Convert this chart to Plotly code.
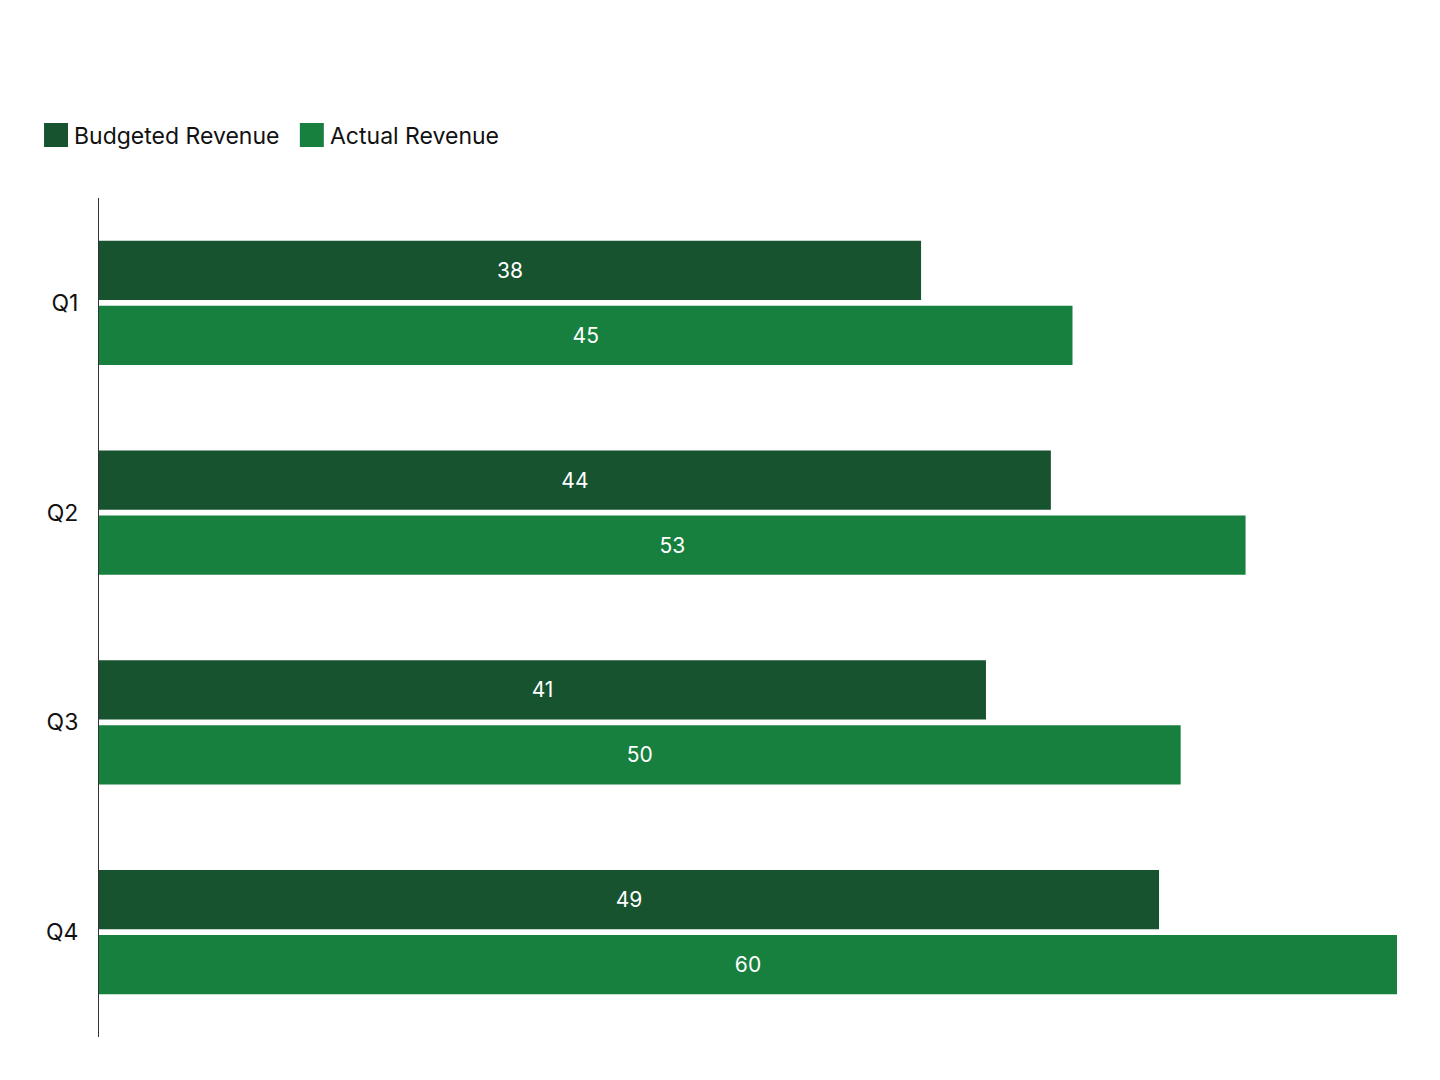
import plotly.graph_objects as go

quarters = ["Q1", "Q2", "Q3", "Q4"]
budgeted = [38, 44, 41, 49]
actual = [45, 53, 50, 60]

series_names = ["Budgeted Revenue", "Actual Revenue"]
colors = ["#17532f", "#17803f"]

fig = go.Figure()
for name, vals, col in zip(series_names, [budgeted, actual], colors):
    fig.add_trace(go.Bar(
        y=quarters,
        x=vals,
        name=name,
        orientation="h",
        marker=dict(color=col, line=dict(width=0)),
        text=vals,
        textposition="inside",
        insidetextanchor="middle",
        textfont=dict(color="white", size=21, family="Inter"),
        showlegend=False,
    ))

# legend drawn by hand so the swatches can be the same size as the reference
# (positions in reference pixels, mapped onto the plot area 98..1397 x 198..1037)
legend_x = [43, 299]
for i, (name, col) in enumerate(zip(series_names, colors)):
    fig.add_shape(
        type="rect", xref="paper", yref="paper",
        x0=(legend_x[i] - 98) / 1299, x1=(legend_x[i] + 24 - 98) / 1299,
        y0=(1037 - 147) / 839, y1=(1037 - 123) / 839,
        fillcolor=col, line=dict(width=0),
    )
    fig.add_annotation(
        text=name, xref="paper", yref="paper",
        x=(legend_x[i] + 28 - 98) / 1299, y=(1037 - 136) / 839,
        xanchor="left", yanchor="middle", showarrow=False,
        font=dict(size=23, family="Inter", color="#111111"),
    )

fig.update_layout(
    width=1440,
    height=1080,
    margin=dict(l=91, r=51, t=190, b=51),
    barmode="group",
    bargap=0.38,
    bargroupgap=0.09,
    plot_bgcolor="white",
    paper_bgcolor="white",
    font=dict(family="Inter", color="#111111"),
    xaxis=dict(range=[0, 60], visible=False, showgrid=False),
    yaxis=dict(
        autorange="reversed",
        showline=True,
        linecolor="#333333",
        linewidth=1,
        showgrid=False,
        ticks="",
        ticklabelstandoff=15,
        tickfont=dict(size=23, family="Inter", color="#111111"),
    ),
)

fig.write_html("out.html")
